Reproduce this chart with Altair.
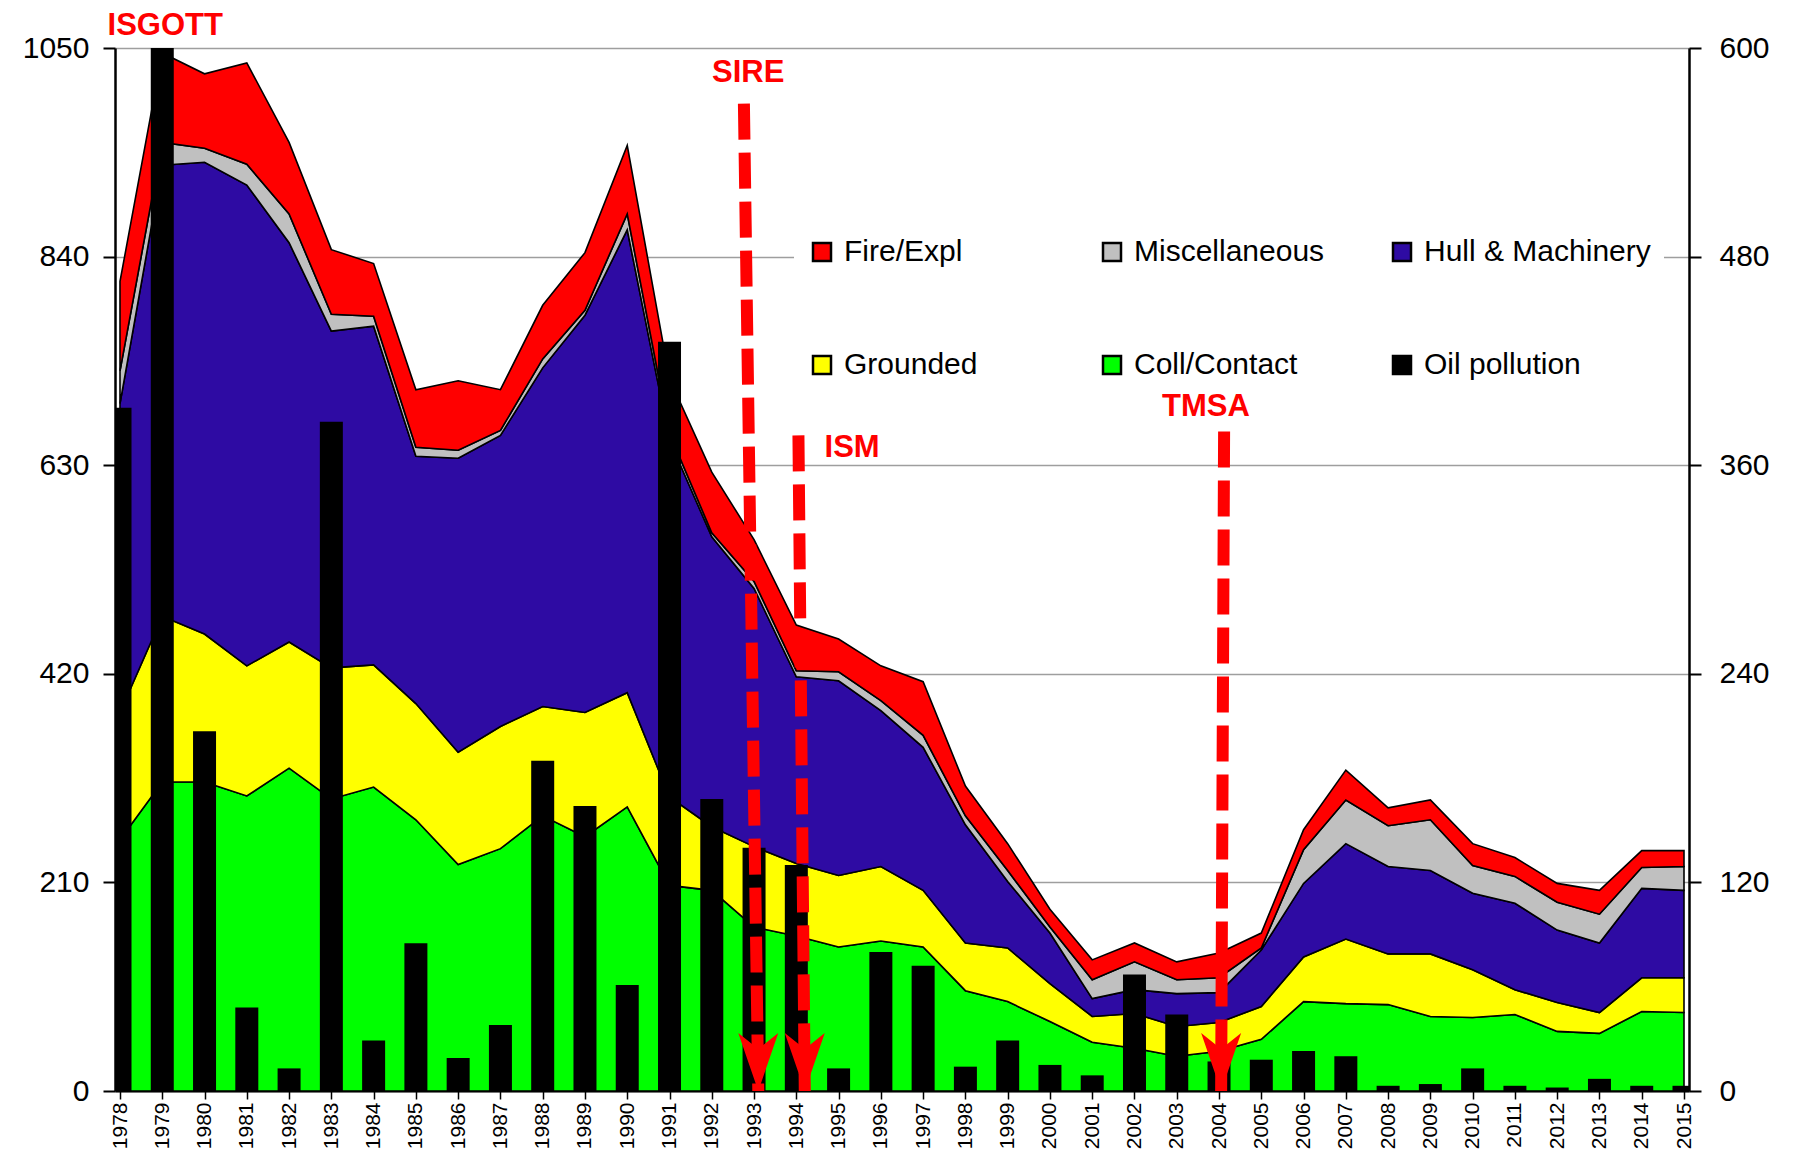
import altair as alt
import pandas as pd

years = [1978, 1979, 1980, 1981, 1982, 1983, 1984, 1985, 1986, 1987,
         1988, 1989, 1990, 1991, 1992, 1993, 1994, 1995, 1996, 1997,
         1998, 1999, 2000, 2001, 2002, 2003, 2004, 2005, 2006, 2007,
         2008, 2009, 2010, 2011, 2012, 2013, 2014, 2015]

coll = [253, 311, 311, 297, 325, 294, 306, 273, 228, 244, 277, 256, 286, 207, 202, 165, 156, 145, 151,
        145, 101, 90, 70, 49, 43, 35, 40, 52, 90, 88, 87, 75, 74, 77, 60, 58, 80, 79]
grounded = [128, 167, 149, 131, 127, 132, 123, 117, 113, 123, 110, 125, 115, 89, 64, 81, 73, 72, 75,
            57, 48, 54, 38, 26, 35, 30, 29, 33, 45, 65, 51, 63, 48, 25, 29, 21, 34, 35]
hull = [311, 454, 475, 484, 402, 339, 341, 249, 296, 293, 341, 400, 466, 359, 292, 260, 188, 196, 157,
        144, 119, 67, 51, 18, 24, 33, 30, 57, 74, 96, 88, 84, 77, 87, 73, 70, 90, 88]
misc = [33, 23, 14, 21, 29, 17, 10, 9, 8, 5, 9, 5, 16, 7, 4, 7, 6, 9, 10,
        12, 9, 11, 6, 19, 28, 14, 15, 2, 34, 44, 41, 51, 28, 27, 28, 29, 21, 24]
fire = [90, 90, 75, 102, 72, 65, 53, 58, 70, 41, 54, 58, 69, 55, 61, 42, 46, 33, 35,
        54, 30, 27, 18, 20, 19, 18, 25, 15, 20, 30, 18, 20, 22, 19, 19, 24, 17, 16]
oil = [393, 600, 207, 48, 13, 385, 29, 85, 19, 38, 190, 164, 61, 431, 168, 140, 130, 13, 80,
       72, 14, 29, 15, 9, 67, 44, 17, 18, 23, 20, 3, 4, 13, 3, 2, 7, 3, 3]

categories = ["Fire/Expl", "Miscellaneous", "Hull & Machinery", "Grounded", "Coll/Contact", "Oil pollution"]
colors = ["#FF0000", "#C0C0C0", "#2E0BA3", "#FFFF00", "#00FF00", "#000000"]

left_ticks = [0, 210, 420, 630, 840, 1050]
right_ticks = [0, 120, 240, 360, 480, 600]

# annotation arrows (programmes) and labels
arrow_names = ["SIRE", "ISM", "TMSA"]
arrow_x_top = [1992.76, 1994.05, 2004.12]
arrow_x_bot = [1993.1, 1994.2, 2004.05]
arrow_y_top = [994, 660, 664]
arrow_y_bot = [0, 0, 0]

label_text = ["ISGOTT", "SIRE", "ISM", "TMSA"]
label_x = [1979.07, 1992.86, 1995.32, 2003.69]
label_y = [1072, 1025, 647, 689]

stack_series = [("Coll/Contact", coll), ("Grounded", grounded), ("Hull & Machinery", hull),
                ("Miscellaneous", misc), ("Fire/Expl", fire)]
rows = []
for i, (name, vals) in enumerate(stack_series):
    for yr, v in zip(years, vals):
        rows.append({"year": yr, "category": name, "value": v, "order": i})
area_df = pd.DataFrame(rows)
bar_df = pd.DataFrame({"year": years, "oil": oil, "category": ["Oil pollution"] * len(years)})
arrow_df = pd.DataFrame({"name": arrow_names, "x_top": arrow_x_top, "x_bot": arrow_x_bot,
                         "y_top": arrow_y_top, "y_bot": arrow_y_bot})
label_df = pd.DataFrame({"text": label_text, "x": label_x, "y": label_y})

FONT = "Liberation Sans"
xscale = alt.Scale(domain=[1978, 2015], nice=False, zero=False)
yl = alt.Scale(domain=[0, 1050], nice=False, zero=True)
yr_scale = alt.Scale(domain=[0, 600], nice=False, zero=True)

xaxis = alt.Axis(values=years, format="d", labelAngle=270, labelFontSize=21, labelFont=FONT,
                 tickSize=8, tickColor="black", tickWidth=1.5, domainColor="black", domainWidth=2,
                 grid=False, title=None, labelPadding=3, labelOverlap=False, labelFlush=False,
                 labelColor="black")

legend = alt.Legend(orient="none", legendX=679, legendY=176, columns=3, direction="horizontal",
                    gridAlign="all", columnPadding=26, rowPadding=83, symbolType="square",
                    symbolSize=324, symbolStrokeColor="black", symbolStrokeWidth=2.5,
                    labelFontSize=30, labelFont=FONT, labelLimit=400, labelOffset=7,
                    fillColor="white", padding=13, title=None, symbolOpacity=1,
                    labelColor="black")
color_scale = alt.Scale(domain=categories, range=colors)

areas = alt.Chart(area_df).mark_area(stroke="black", strokeWidth=1.6, opacity=1).encode(
    x=alt.X("year:Q", scale=xscale, axis=xaxis),
    y=alt.Y("value:Q", stack="zero", scale=yl,
            axis=alt.Axis(values=left_ticks, format="d", orient="left", grid=True,
                          gridColor="#9e9e9e", gridWidth=1.5, tickSize=12, tickColor="black",
                          tickWidth=2, labelFontSize=30, labelFont=FONT, labelPadding=14,
                          domainColor="black", domainWidth=2.5, title=None, labelColor="black")),
    color=alt.Color("category:N", scale=color_scale, legend=legend),
    order=alt.Order("order:Q"),
)

bars = alt.Chart(bar_df).mark_bar(size=23, clip=True, opacity=1).encode(
    x=alt.X("year:Q", scale=xscale, axis=xaxis),
    y=alt.Y("oil:Q", scale=yr_scale,
            axis=alt.Axis(values=right_ticks, format="d", orient="right", grid=False,
                          tickSize=12, tickColor="black", tickWidth=2, labelFontSize=30,
                          labelFont=FONT, labelPadding=18, domainColor="black",
                          domainWidth=2.5, title=None, labelColor="black")),
    color=alt.Color("category:N", scale=color_scale, legend=legend),
)

rules = alt.Chart(arrow_df).mark_rule(color="#FF0000", strokeWidth=12, strokeDash=[36, 13]).encode(
    x=alt.X("x_top:Q", scale=xscale, axis=xaxis),
    x2="x_bot:Q",
    y=alt.Y("y_top:Q", scale=yl, axis=None),
    y2="y_bot:Q",
)

heads = alt.Chart(arrow_df).mark_point(
    shape="M0,0 L-1,-2.9 L0,-2.1 L1,-2.9 Z", size=1600, filled=True, color="#FF0000",
    opacity=1, strokeWidth=0,
).encode(
    x=alt.X("x_bot:Q", scale=xscale, axis=xaxis),
    y=alt.Y("y_bot:Q", scale=yl, axis=None),
)

labels = alt.Chart(label_df).mark_text(
    font=FONT, fontSize=31, fontWeight="bold", color="#FF0000", align="center", baseline="middle"
).encode(
    x=alt.X("x:Q", scale=xscale, axis=xaxis),
    y=alt.Y("y:Q", scale=yl, axis=None),
    text="text:N",
)

annot = alt.layer(rules, heads, labels)

chart = alt.layer(areas, bars, annot).resolve_scale(y="independent").properties(
    width=1574, height=1043,
    autosize=alt.AutoSizeParams(type="none"),
    padding={"left": 107, "top": 40, "right": 97, "bottom": 64},
).configure_view(stroke="black", strokeWidth=2.5).configure(background="white")

chart.save("out.html", embed_options={"renderer": "svg", "actions": False})
